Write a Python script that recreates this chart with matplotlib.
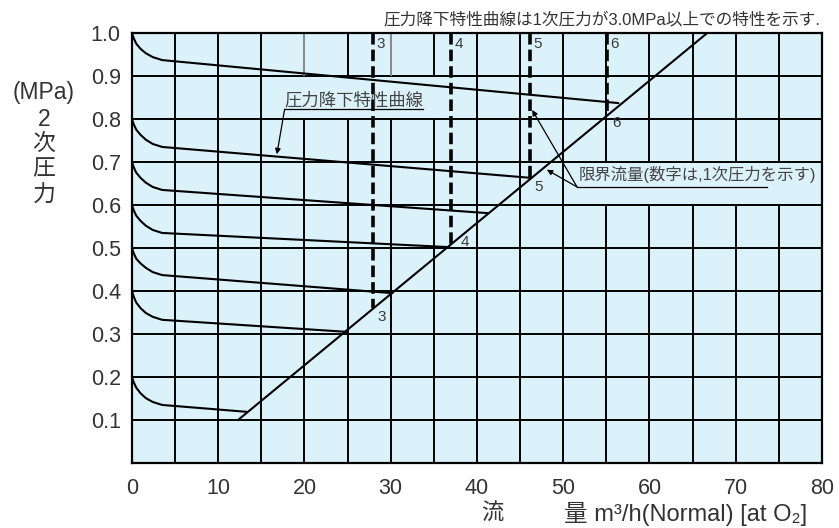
import matplotlib
matplotlib.use('Agg')
import matplotlib.pyplot as plt

plt.rcParams['font.family'] = ['Liberation Sans', 'Noto Sans CJK JP', 'DejaVu Sans']

# pressure drop curves
c1_x = [0, 0.2, 0.5, 1.0, 1.6, 2.4, 3.5, 56.4]
c1_y = [1.0, 0.988, 0.975, 0.963, 0.953, 0.944, 0.937, 0.837]
c2_x = [0, 0.2, 0.5, 1.0, 1.6, 2.4, 3.5, 46.3]
c2_y = [0.8, 0.788, 0.775, 0.763, 0.752, 0.742, 0.735, 0.663]
c3_x = [0, 0.2, 0.5, 1.0, 1.6, 2.4, 3.5, 41.3]
c3_y = [0.7, 0.688, 0.675, 0.663, 0.652, 0.642, 0.635, 0.581]
c4_x = [0, 0.2, 0.5, 1.0, 1.6, 2.4, 3.5, 36.8]
c4_y = [0.6, 0.588, 0.575, 0.563, 0.552, 0.542, 0.535, 0.502]
c5_x = [0, 0.2, 0.5, 1.0, 1.6, 2.4, 3.5, 30.2]
c5_y = [0.5, 0.488, 0.475, 0.464, 0.454, 0.444, 0.437, 0.395]
c6_x = [0, 0.2, 0.5, 1.0, 1.6, 2.4, 3.5, 24.9]
c6_y = [0.4, 0.387, 0.373, 0.360, 0.349, 0.340, 0.333, 0.305]
c7_x = [0, 0.2, 0.5, 1.0, 1.6, 2.4, 3.5, 13.3]
c7_y = [0.2, 0.188, 0.175, 0.162, 0.151, 0.142, 0.135, 0.119]
curves = [(c1_x, c1_y), (c2_x, c2_y), (c3_x, c3_y), (c4_x, c4_y),
          (c5_x, c5_y), (c6_x, c6_y), (c7_x, c7_y)]

# critical flow line
crit_x = [12.3, 66.7]
crit_y = [0.1, 1.0]

# dashed lines: primary pressure 3,4,5,6 MPa
dash_x = [28.0, 37.0, 46.1, 55.1]
dash_bottom = [0.36, 0.50, 0.66, 0.815]
dash_labels = ['3', '4', '5', '6']
top_lbl_x = [28.4, 37.4, 46.5, 55.5]
bot_lbl_x = [29.0, 38.6, 47.1, 56.2]
bot_lbl_y = [0.34, 0.514, 0.642, 0.791]

x_ticks = [0, 10, 20, 30, 40, 50, 60, 70, 80]
y_ticks = [0.1, 0.2, 0.3, 0.4, 0.5, 0.6, 0.7, 0.8, 0.9, 1.0]
grid_x = list(range(0, 85, 5))
grid_y = [0.0, 0.1, 0.2, 0.3, 0.4, 0.5, 0.6, 0.7, 0.8, 0.9, 1.0]
# grid cells where the vertical line is left out (behind the labels)
gap_08 = [20, 25, 30, 35]
gap_06 = [55, 60, 65, 70, 75]
gray_top = [20, 30]

fig = plt.figure(figsize=(8.39, 5.28), dpi=100)
ax = fig.add_axes([0.1573, 0.1231, 0.8224, 0.8144])
ax.set_facecolor('#dcf2fb')
ax.set_xlim(0, 80)
ax.set_ylim(0, 1.0)

lw = 1.4
for y in grid_y:
    ax.axhline(y, color='black', lw=lw, zorder=1)
for x in grid_x:
    for i in range(len(grid_y) - 1):
        y0 = grid_y[i]
        if abs(y0 - 0.8) < 1e-6 and x in gap_08:
            continue
        if abs(y0 - 0.6) < 1e-6 and x in gap_06:
            continue
        col = 'black'
        if abs(y0 - 0.9) < 1e-6 and x in gray_top:
            col = '#888888'
        ax.vlines(x, y0, grid_y[i + 1], color=col, lw=lw, zorder=1)

for cx, cy in curves:
    ax.plot(cx, cy, color='black', lw=1.5, zorder=3, solid_capstyle='round')

ax.plot(crit_x, crit_y, color='black', lw=1.5, zorder=3)

for x, yb in zip(dash_x, dash_bottom):
    ax.plot([x, x], [1.0, yb], color='black', lw=2.6, ls=(0, (3.2, 1.4)),
            zorder=4)

tc = '#3a3a3a'
for lx, lab in zip(top_lbl_x, dash_labels):
    ax.text(lx, 0.975, lab, fontsize=11, color=tc, ha='left', va='center',
            zorder=5)
for lx, ly, lab in zip(bot_lbl_x, bot_lbl_y, dash_labels):
    ax.text(lx, ly, lab, fontsize=11, color=tc, ha='center', va='center',
            zorder=5)

# annotation: pressure drop curve
ax.text(25.7, 0.845, '圧力降下特性曲線', fontsize=12.5, color='#444444',
        ha='center', va='center', zorder=5)
ax.plot([33.7, 17.7], [0.823, 0.823], color='black', lw=0.9, zorder=5)
ax.annotate('', xy=(16.8, 0.718), xytext=(17.7, 0.823),
            arrowprops=dict(arrowstyle='-|>', color='black', lw=0.9,
                            mutation_scale=8, shrinkA=0, shrinkB=0),
            zorder=5)

# annotation: critical flow
ax.text(51.8, 0.652, '限界流量(数字は,1次圧力を示す)', fontsize=11.8,
        color='#444444', ha='left', va='bottom', zorder=5)
ax.plot([73.6, 51.6], [0.642, 0.642], color='black', lw=0.9, zorder=5)
ax.annotate('', xy=(46.4, 0.821), xytext=(51.6, 0.642),
            arrowprops=dict(arrowstyle='-|>', color='black', lw=0.9,
                            mutation_scale=8, shrinkA=0, shrinkB=0),
            zorder=5)
ax.annotate('', xy=(48.1, 0.682), xytext=(51.6, 0.642),
            arrowprops=dict(arrowstyle='-|>', color='black', lw=0.9,
                            mutation_scale=8, shrinkA=0, shrinkB=0),
            zorder=5)

ax.set_xticks(x_ticks)
ax.set_yticks(y_ticks)
ax.set_xticklabels([str(v) for v in x_ticks])
ax.set_yticklabels(['%.1f' % v for v in y_ticks])
ax.tick_params(axis='both', length=0, labelsize=15.5, colors='#333333')
ax.tick_params(axis='x', pad=11)
ax.tick_params(axis='y', pad=8)
for s in ax.spines.values():
    s.set_color('black')
    s.set_linewidth(1.6)

# y axis label, stacked
for txt, py in zip(['(MPa)', '2', '次', '圧', '力'], [92, 119, 143, 169, 195]):
    fig.text(44 / 839, 1 - py / 528, txt, fontsize=16.5, color='#333333',
             ha='center', va='center')

# x axis label
fig.text(492 / 839, 1 - 514 / 528, '流', fontsize=16, color='#333333',
         ha='center', va='center')
fig.text(564 / 839, 1 - 514 / 528, '量 m³/h(Normal) [at O₂]', fontsize=17,
         color='#333333', ha='left', va='center')

# top note
fig.text(820 / 839, 1 - 19 / 528,
         '圧力降下特性曲線は1次圧力が3.0MPa以上での特性を示す.',
         fontsize=12, color='#333333', ha='right', va='center')

fig.savefig('out.png', dpi=100)
